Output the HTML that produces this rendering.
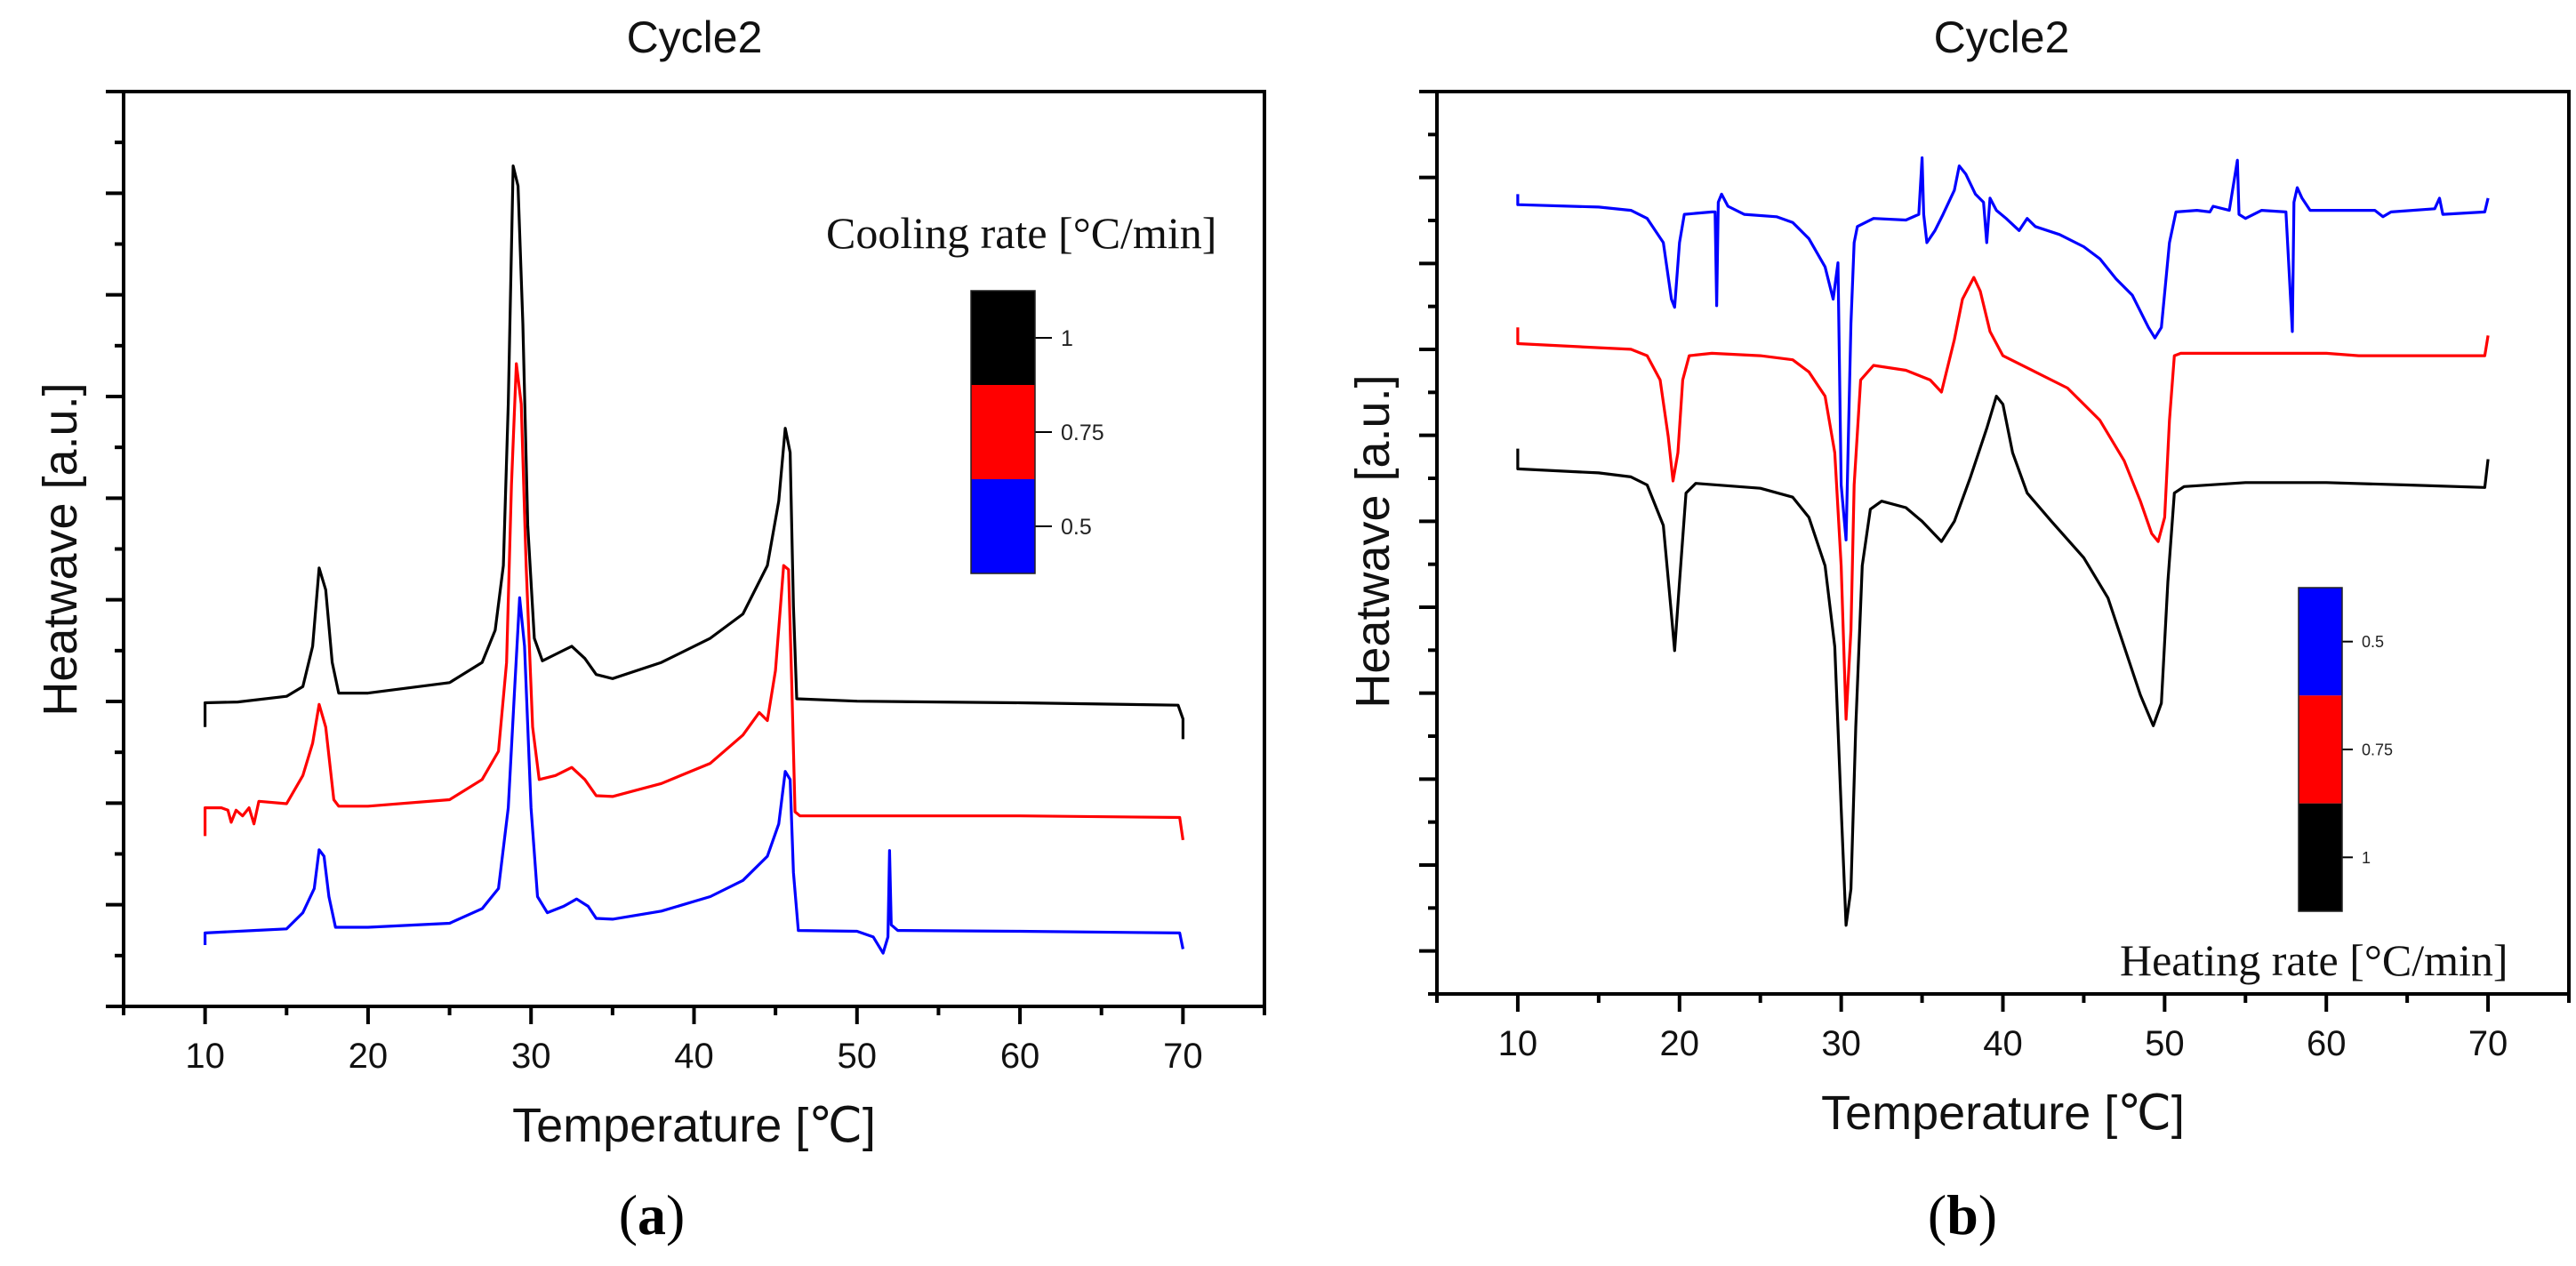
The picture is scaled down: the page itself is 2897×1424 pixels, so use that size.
<!DOCTYPE html>
<html><head><meta charset="utf-8"><style>
html,body{margin:0;padding:0;background:#fff}
svg{display:block}
.sans{font-family:"Liberation Sans",Arial,sans-serif}
.serif{font-family:"Liberation Serif","Times New Roman",serif}
</style></head><body>
<svg id="fig" width="2897" height="1424" viewBox="0 0 2897 1424" xmlns="http://www.w3.org/2000/svg">
<g id="pa"></g>
<g id="pb"></g>
</svg>
<script>
// ---- Panel (a) cooling data (x: temperature °C, y: heatwave a.u.)
const aXTicks = [10,20,30,40,50,60,70];
const aBlackX = [10,10,12,15,16,16.6,17,17.4,17.8,18.2,20,25,27,27.8,28.3,28.6,28.9,29.2,29.5,29.8,30.2,30.7,31.5,32.5,33.3,34,35,38,41,43,44.5,45.2,45.6,45.9,46.1,46.3,50,60,69.7,70,70];
const aBlackY = [346,376,377,384,396,446,543,516,426,388,388,401,426,466,546,746,1041,1016,846,596,456,428,436,446,431,411,406,426,456,486,546,626,716,686,496,381,378,376,373,356,331];
const aRedX = [10,10,11,11.4,11.6,11.9,12.3,12.7,13,13.3,15,16,16.6,17,17.4,17.9,18.2,20,25,27,28,28.5,28.8,29.1,29.4,29.7,30.1,30.5,31.5,32.5,33.3,34,35,38,41,43,44,44.5,45,45.5,45.8,46,46.2,46.5,50,60,69.8,70];
const aRedY = [211,246,246,243,228,243,236,246,226,254,251,286,326,374,346,256,248,248,256,281,316,426,646,796,746,546,346,281,286,296,281,261,260,276,301,336,364,354,416,546,541,396,241,236,236,236,234,206];
const aBlueX = [10,10,13,15,16,16.7,17,17.3,17.6,18,20,25,27,28,28.6,29,29.3,29.6,30,30.4,31,32,32.8,33.5,34,35,38,41,43,44.5,45.2,45.6,45.9,46.1,46.4,50,51,51.6,51.9,52,52.1,52.5,60,69.8,70];
const aBlueY = [76,91,94,96,116,146,194,186,136,98,98,103,121,146,246,396,506,446,246,136,116,124,133,124,109,108,118,136,156,186,226,291,281,166,94,93,86,66,86,193,101,94,93,91,71];
// ---- Panel (b) heating data
const bXTicks = [10,20,30,40,50,60,70];
const bBlueX = [10,10,15,17,18,19,19.5,19.7,20,20.3,22,22.2,22.3,22.4,22.6,23,24,26,27,28,29,29.5,29.8,30,30.3,30.6,30.8,31,32,34,34.8,35,35.1,35.3,35.8,36.3,37,37.3,37.7,38.3,38.8,39,39.2,39.6,40.2,41,41.5,42,43.5,45,46,47,48,49,49.4,49.8,50.3,50.7,52,52.8,53,54,54.5,54.6,55,56,57.5,57.9,58,58.2,58.5,59,63,63.5,64,66.7,67,67.2,69.8,70];
const bBlueY = [990,977,974,970,960,930,860,850,930,965,968,968,852,980,990,975,965,962,955,935,900,860,905,630,562,830,930,950,960,958,965,1035,965,930,945,965,995,1025,1015,990,980,930,985,970,960,945,960,950,940,925,910,885,865,825,812,825,930,968,970,968,975,970,1032,965,960,970,968,820,980,998,985,970,970,962,968,972,985,965,968,985];
const bRedX = [10,10,15,17,18,18.8,19.3,19.6,19.9,20.2,20.6,22,25,27,28,29,29.6,30,30.3,30.6,30.8,31.2,32,34,35.5,36.2,37,37.5,38.2,38.6,39.2,40,42,44,46,47.5,48.5,49.2,49.6,50,50.3,50.6,51,60,62,69.8,70];
const bRedY = [825,805,800,798,790,760,690,635,670,760,790,793,790,785,770,740,670,530,340,450,630,760,778,772,760,745,810,860,887,870,820,790,770,750,710,660,610,570,560,590,710,790,793,793,790,790,815];
const bBlackX = [10,10,15,17,18,19,19.5,19.7,20,20.4,21,25,27,28,29,29.6,30,30.3,30.6,30.9,31.3,31.8,32.5,34,35,36.2,37,38,39,39.6,40,40.6,41.5,43,45,46.5,47.5,48.5,49.3,49.8,50.2,50.6,51.2,55,60,65,69.8,70];
const bBlackY = [675,650,645,640,630,580,470,425,510,620,632,626,615,590,530,430,230,85,130,330,530,600,610,602,585,560,585,640,700,740,730,670,620,585,540,490,430,370,332,360,510,620,628,633,633,630,627,662];

const NS='http://www.w3.org/2000/svg';
function el(parent,tag,attrs,text){const e=document.createElementNS(NS,tag);for(const k in attrs)e.setAttribute(k,attrs[k]);if(text!==undefined)e.textContent=text;parent.appendChild(e);return e;}

function panel(g,cfg){
  const {L,R,T,B,ymax}=cfg;
  const xs=v=>L+(v-5)/70*(R-L);
  const ys=v=>B-v/ymax*(B-T);
  // title
  const t=el(g,'text',{x:cfg.titleX,y:59,'text-anchor':'middle','font-size':50,class:'sans',fill:'#111'},'Cycle2');
  
  
  // series
  cfg.series.forEach(s=>{
    const pts=s.x.map((v,i)=>xs(v).toFixed(1)+','+ys(s.y[i]).toFixed(1)).join(' ');
    const p=el(g,'polyline',{points:pts,fill:'none',stroke:s.c,'stroke-width':3.2,'stroke-linejoin':'round'});
    
    
  });
  // axes box
  const box=el(g,'rect',{x:L,y:T,width:R-L,height:B-T,fill:'none',stroke:'#000','stroke-width':4});
  
  
  // x ticks
  for(let v=5;v<=75;v+=5){
    const maj=(v%10===0);
    el(g,'line',{x1:xs(v),x2:xs(v),y1:B,y2:B+(maj?20:10),stroke:'#000','stroke-width':4});
  }
  cfg.xticks.forEach(v=>{
    const tl=el(g,'text',{x:xs(v),y:cfg.tickY,'text-anchor':'middle','font-size':40,class:'sans',fill:'#111'},String(v));
    
    
  });
  // y ticks
  const n=cfg.nY, step=(B-T)/n;
  for(let k=0;k<=n;k++){
    const maj=(k%2===cfg.majParity);
    const y=B-k*step;
    el(g,'line',{x1:L-(maj?20:10),x2:L,y1:y,y2:y,stroke:'#000','stroke-width':4});
  }
  const xt=el(g,'text',{x:(L+R)/2,y:cfg.xTitleY,'text-anchor':'middle','font-size':54,class:'sans',fill:'#111'});
  
  
  xt.appendChild(document.createTextNode('Temperature ['));
  el(xt,'tspan',{class:'serif'},'℃');
  xt.appendChild(document.createTextNode(']'));
  const yt=el(g,'text',{x:0,y:0,transform:`translate(${cfg.yTitleX},${cfg.yTitleY}) rotate(-90)`,'text-anchor':'middle','font-size':54,class:'sans',fill:'#111'},'Heatwave [a.u.]');
  
  
  const pl=el(g,'text',{x:cfg.labX,y:1388,'text-anchor':'middle','font-size':64,class:'serif',fill:'#000'});
  
  
  pl.appendChild(document.createTextNode('('));
  el(pl,'tspan',{'font-weight':'bold'},cfg.lab);
  pl.appendChild(document.createTextNode(')'));
  // colorbar legend
  const cb=cfg.cb, h=(cb.b-cb.t)/3;
  const lg=el(g,'g',{});
  
  
  cb.cols.forEach((c,i)=>{
    el(lg,'rect',{x:cb.l,y:cb.t+i*h,width:cb.r-cb.l,height:h,fill:c});
    const yy=cb.t+(i+0.5)*h;
    el(lg,'line',{x1:cb.r,x2:cb.r+cb.tick,y1:yy,y2:yy,stroke:'#000','stroke-width':2});
    el(lg,'text',{x:cb.r+cb.tick+10,y:yy+cb.fs*0.36,'font-size':cb.fs,class:'sans',fill:'#222'},cb.labs[i]);
  });
  el(lg,'rect',{x:cb.l,y:cb.t,width:cb.r-cb.l,height:cb.b-cb.t,fill:'none',stroke:'#222','stroke-width':1.5});
  el(lg,'text',{x:cb.tx,y:cb.ty,'font-size':50,class:'serif',fill:'#111'},cb.title);
}

panel(document.getElementById('pa'),{L:139,R:1422,T:103,B:1132,ymax:1133,nY:18,majParity:0,
  titleX:781,tickY:1201,xTitleY:1284,yTitleX:86,yTitleY:618,labX:733,lab:'a',xticks:aXTicks,
  series:[{x:aBlackX,y:aBlackY,c:'#000',name:'cooling-1-line'},{x:aRedX,y:aRedY,c:'#f00',name:'cooling-0.75-line'},{x:aBlueX,y:aBlueY,c:'#00f',name:'cooling-0.5-line'}],
  cb:{l:1092,r:1164,t:327,b:645,tick:19,fs:25,cols:['#000','#f00','#00f'],labs:['1','0.75','0.5'],title:'Cooling rate [°C/min]',tx:929,ty:279}});
panel(document.getElementById('pb'),{L:1616,R:2889,T:103,B:1118,ymax:1117,nY:21,majParity:1,
  titleX:2251,tickY:1187,xTitleY:1270,yTitleX:1562,yTitleY:609,labX:2207,lab:'b',xticks:bXTicks,
  series:[{x:bBlueX,y:bBlueY,c:'#00f',name:'heating-0.5-line'},{x:bRedX,y:bRedY,c:'#f00',name:'heating-0.75-line'},{x:bBlackX,y:bBlackY,c:'#000',name:'heating-1-line'}],
  cb:{l:2585,r:2634,t:661,b:1025,tick:12,fs:18,cols:['#00f','#f00','#000'],labs:['0.5','0.75','1'],title:'Heating rate [°C/min]',tx:2384,ty:1097}});
</script>
</body></html>
